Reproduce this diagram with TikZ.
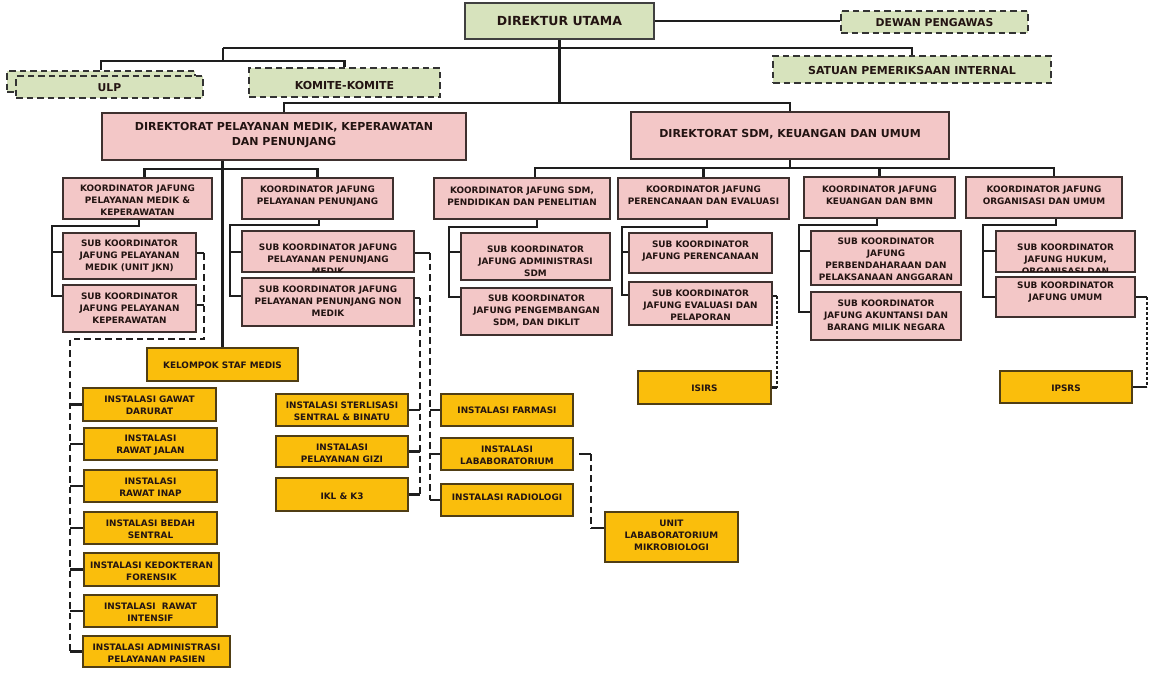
\documentclass[tikz,border=0pt]{standalone}
\usepackage{fontspec}
\newfontfamily\hv{DejaVu Sans}
\definecolor{gfill}{RGB}{215,227,189}
\definecolor{pfill}{RGB}{243,199,199}
\definecolor{ofill}{RGB}{250,190,12}
\definecolor{bord}{RGB}{62,48,46}
\definecolor{obord}{RGB}{80,62,20}
\definecolor{txtc}{RGB}{35,20,18}
\definecolor{lnc}{RGB}{30,30,30}
\tikzset{
 boxbase/.style={rectangle, inner sep=0pt, line width=2.1pt, draw=bord},
 gsolid/.style={boxbase, fill=gfill, draw=black!75},
 gdash/.style={boxbase, fill=gfill, draw=black!80, dash pattern=on 6.5pt off 4pt},
 pbox/.style={boxbase, fill=pfill},
 obox/.style={boxbase, fill=ofill, draw=obord},
 t/.style={inner sep=0pt, align=center, text=txtc, font=\hv\bfseries\fontsize{8.9}{12}\selectfont},
 tbig/.style={t, font=\hv\bfseries\fontsize{11}{14.5}\selectfont},
 tmid/.style={t, font=\hv\bfseries\fontsize{10.8}{14}\selectfont},
 ttop/.style={t, font=\hv\bfseries\fontsize{12.5}{15}\selectfont},
 conn/.style={line width=2.2pt, draw=lnc},
 dconn/.style={line width=2.2pt, draw=lnc, dash pattern=on 6.5pt off 4pt},
 tconn/.style={line width=1.2pt, draw=lnc, dash pattern=on 3pt off 2pt},
}
% box: name, box style, text style, x1, y1, x2, y2, text y, text
\newcommand\bx[9]{%
 \node[#2, minimum width={(#6)-(#4)}, minimum height={(#7)-(#5)}] (#1) at ({((#4)+(#6))/2},{((#5)+(#7))/2}) {};
 \node[#3] (#1-t) at ({((#4)+(#6))/2},#8) {#9};}
\newcommand\bxc[9]{%
 \node[#2, minimum width={(#6)-(#4)}, minimum height={(#7)-(#5)}] (#1) at ({((#4)+(#6))/2},{((#5)+(#7))/2}) {};
 \begin{scope}\clip (#4,#5) rectangle (#6,{(#7)-1});
 \node[#3] (#1-t) at ({((#4)+(#6))/2},#8) {#9};
 \end{scope}}
\begin{document}
\begin{tikzpicture}[x=1pt,y=-1pt]
\useasboundingbox (0,0) rectangle (1152,673);
\fill[white] (0,0) rectangle (1152,673);
% ---- top level
\bx{du}{gsolid}{ttop}{465}{3}{654}{39}{21}{DIREKTUR UTAMA}
\bx{dewan}{gdash}{tmid}{841}{11}{1028}{33}{22.5}{DEWAN PENGAWAS}
\bx{spi}{gdash}{tbig}{773}{56}{1051}{83}{70}{SATUAN PEMERIKSAAN INTERNAL}
\node[gdash, minimum width=188, minimum height=21] (ulpa) at (101,81.5) {};
\bx{ulp}{gdash}{tmid}{16}{76}{203}{98}{88}{ULP}
\bx{komite}{gdash}{tbig}{249}{68}{440}{97}{85}{KOMITE-KOMITE}
\bx{dir1}{pbox}{tbig}{102}{113}{466}{160}{135}{DIREKTORAT PELAYANAN MEDIK, KEPERAWATAN\\DAN PENUNJANG}
\bx{dir2}{pbox}{tbig}{631}{112}{949}{159}{134}{DIREKTORAT SDM, KEUANGAN DAN UMUM}
% ---- koordinator
\bx{kjm}{pbox}{t}{63}{178}{212}{219}{200}{KOORDINATOR JAFUNG\\PELAYANAN MEDIK \&\\KEPERAWATAN}
\bx{kjp}{pbox}{t}{242}{178}{393}{219}{196}{KOORDINATOR JAFUNG\\PELAYANAN PENUNJANG}
\bx{kjs}{pbox}{t}{434}{178}{610}{219}{196.5}{KOORDINATOR JAFUNG SDM,\\PENDIDIKAN DAN PENELITIAN}
\bx{kjr}{pbox}{t}{618}{178}{789}{219}{195}{KOORDINATOR JAFUNG\\PERENCANAAN DAN EVALUASI}
\bx{kjk}{pbox}{t}{804}{177}{955}{218}{195.5}{KOORDINATOR JAFUNG\\KEUANGAN DAN BMN}
\bx{kjo}{pbox}{t}{966}{177}{1122}{218}{195.5}{KOORDINATOR JAFUNG\\ORGANISASI DAN UMUM}
% ---- sub koordinator
\bx{sm1}{pbox}{t}{63}{233}{196}{279}{256.5}{SUB KOORDINATOR\\JAFUNG PELAYANAN\\MEDIK (UNIT JKN)}
\bx{sm2}{pbox}{t}{63}{285}{196}{332}{308}{SUB KOORDINATOR\\JAFUNG PELAYANAN\\KEPERAWATAN}
\bxc{sp1}{pbox}{t}{242}{231}{414}{272}{259.5}{SUB KOORDINATOR JAFUNG\\PELAYANAN PENUNJANG\\MEDIK}
\bx{sp2}{pbox}{t}{242}{278}{414}{326}{301.5}{SUB KOORDINATOR JAFUNG\\PELAYANAN PENUNJANG NON\\MEDIK}
\bx{ss1}{pbox}{t}{461}{233}{610}{280}{261}{SUB KOORDINATOR\\JAFUNG ADMINISTRASI\\SDM}
\bx{ss2}{pbox}{t}{461}{288}{612}{335}{311}{SUB KOORDINATOR\\JAFUNG PENGEMBANGAN\\SDM, DAN DIKLIT}
\bx{sr1}{pbox}{t}{629}{233}{772}{273}{251}{SUB KOORDINATOR\\JAFUNG PERENCANAAN}
\bx{sr2}{pbox}{t}{629}{282}{772}{325}{305}{SUB KOORDINATOR\\JAFUNG EVALUASI DAN\\PELAPORAN}
\bx{sk1}{pbox}{t}{811}{231}{961}{285}{259.5}{SUB KOORDINATOR\\JAFUNG\\PERBENDAHARAAN DAN\\PELAKSANAAN ANGGARAN}
\bx{sk2}{pbox}{t}{811}{292}{961}{340}{315}{SUB KOORDINATOR\\JAFUNG AKUNTANSI DAN\\BARANG MILIK NEGARA}
\bxc{so1}{pbox}{t}{996}{231}{1135}{272}{259}{SUB KOORDINATOR\\JAFUNG HUKUM,\\ORGANISASI DAN}
\bx{so2}{pbox}{t}{996}{277}{1135}{317}{292.5}{SUB KOORDINATOR\\JAFUNG UMUM}
% ---- instalasi
\bx{ksm}{obox}{t}{147}{348}{298}{381}{365}{KELOMPOK STAF MEDIS}
\bx{igd}{obox}{t}{83}{388}{216}{421}{405.5}{INSTALASI GAWAT\\DARURAT}
\bx{irj}{obox}{t}{84}{428}{217}{460}{445}{INSTALASI\\RAWAT JALAN}
\bx{iri}{obox}{t}{84}{470}{217}{502}{487}{INSTALASI\\RAWAT INAP}
\bx{ibs}{obox}{t}{84}{512}{217}{544}{529}{INSTALASI BEDAH\\SENTRAL}
\bx{ikf}{obox}{t}{84}{553}{219}{586}{571.5}{INSTALASI KEDOKTERAN\\FORENSIK}
\bx{iri2}{obox}{t}{84}{595}{217}{627}{612.5}{INSTALASI~ RAWAT\\INTENSIF}
\bx{iap}{obox}{t}{83}{636}{230}{667}{653}{INSTALASI ADMINISTRASI\\PELAYANAN PASIEN}
\bx{iss}{obox}{t}{276}{394}{408}{426}{411}{INSTALASI STERLISASI\\SENTRAL \& BINATU}
\bx{igz}{obox}{t}{276}{436}{408}{467}{453.5}{INSTALASI\\PELAYANAN GIZI}
\bx{ikl}{obox}{t}{276}{478}{408}{511}{496}{IKL \& K3}
\bx{ifa}{obox}{t}{441}{394}{573}{426}{410}{INSTALASI FARMASI}
\bx{ilab}{obox}{t}{441}{438}{573}{470}{455}{INSTALASI\\LABABORATORIUM}
\bx{irad}{obox}{t}{441}{484}{573}{516}{497}{INSTALASI RADIOLOGI}
\bx{iulm}{obox}{t}{605}{512}{738}{562}{535}{UNIT\\LABABORATORIUM\\MIKROBIOLOGI}
\bx{isirs}{obox}{t}{638}{371}{771}{404}{388.5}{ISIRS}
\bx{ipsrs}{obox}{t}{1000}{371}{1132}{403}{388.5}{IPSRS}
% ---- connectors: top
\coordinate (t1) at (223,48);
\coordinate (t3) at (223,61);
\coordinate (b1) at (557,103);
\draw[conn] (du.east) -- (du.east -| dewan.west);
\draw[conn] (du.south) -- (du.south |- b1);
\draw[conn] (t1) -| (spi.north);
\draw[conn] (t1) -- (t3);
\draw[conn] (ulpa.north) |- (t3) -| (komite.north);
\draw[conn] (dir1.north) |- (b1) -| (dir2.north);
% directorate 1
\coordinate (h2) at (223,169);
\draw[conn] (ksm.north) -- (ksm.north |- dir1.south);
\draw[conn] ([xshift=7pt]kjm.north) |- (h2) -| (kjp.north);
% directorate 2
\coordinate (b2L) at (535,168);
\coordinate (b2R) at (1054,168);
\draw[conn] (dir2.south) -- (dir2.south |- b2L);
\draw[conn] (kjs.north -| b2L) |- (b2R) -- (kjo.north -| b2R);
\draw[conn] (kjr.north) -- (kjr.north |- b2L);
\draw[conn] (kjk.north) -- (kjk.north |- b2L);
% groups
\coordinate (gm0) at (52,226); \coordinate (gm1) at (52,252); \coordinate (gm2) at (52,296);
\draw[conn] ([xshift=1.5pt]kjm.south) |- (gm0) -- (gm2) -- (gm2 -| sm2.west);
\draw[conn] (gm1) -- (gm1 -| sm1.west);
\coordinate (gp0) at (230,225); \coordinate (gp1) at (230,252); \coordinate (gp2) at (230,296);
\draw[conn] ([xshift=1.5pt]kjp.south) |- (gp0) -- (gp2) -- (gp2 -| sp2.west);
\draw[conn] (gp1) -- (gp1 -| sp1.west);
\coordinate (gs0) at (449,227); \coordinate (gs1) at (449,252); \coordinate (gs2) at (449,297);
\draw[conn] ([xshift=15pt]kjs.south) |- (gs0) -- (gs2) -- (gs2 -| ss2.west);
\draw[conn] (gs1) -- (gs1 -| ss1.west);
\coordinate (gr0) at (622,227); \coordinate (gr1) at (622,252); \coordinate (gr2) at (622,295);
\draw[conn] ([xshift=3.5pt]kjr.south) |- (gr0) -- (gr2) -- (gr2 -| sr2.west);
\draw[conn] (gr1) -- (gr1 -| sr1.west);
\coordinate (gk0) at (799,225); \coordinate (gk1) at (799,251); \coordinate (gk2) at (799,312);
\draw[conn] ([xshift=-2.5pt]kjk.south) |- (gk0) -- (gk2) -- (gk2 -| sk2.west);
\draw[conn] (gk1) -- (gk1 -| sk1.west);
\coordinate (go0) at (983,225); \coordinate (go1) at (983,251); \coordinate (go2) at (983,297);
\draw[conn] ([xshift=12pt]kjo.south) |- (go0) -- (go2) -- (go2 -| so2.west);
\draw[conn] (go1) -- (go1 -| so1.west);
% dashed: medical
\coordinate (dm0) at (204,253); \coordinate (dm1) at (204,305);
\coordinate (dm2) at (204,339); \coordinate (dm3) at (70,339);
\draw[conn] (dm0 -| sm1.east) -- (dm0);
\draw[conn] (dm1 -| sm2.east) -- (dm1);
\draw[dconn] (dm0) -- (dm2) -- (dm3) -- (dm3 |- iap.west);
\foreach \b in {igd,irj,iri,ibs,ikf,iri2,iap} \draw[conn] (\b.west -| dm3) -- (\b.west);
% dashed: penunjang
\coordinate (dp0) at (430,253); \coordinate (dn0) at (420,298);
\draw[conn] (dp0 -| sp1.east) -- (dp0);
\draw[dconn] (dp0) -- (dp0 |- irad.west);
\foreach \b in {ifa,ilab,irad} \draw[conn] (\b.west -| dp0) -- (\b.west);
\draw[conn] (dn0 -| sp2.east) -- (dn0);
\draw[dconn] (dn0) -- (dn0 |- ikl.east);
\foreach \b in {iss,igz,ikl} \draw[conn] (\b.east) -- (\b.east -| dn0);
% dashed: lab
\coordinate (dl0) at (591,454);
\coordinate (ul) at ([yshift=9pt]iulm.west);
\draw[conn] ([xshift=5pt]ilab.east) -- (dl0);
\draw[dconn] (dl0) -- (dl0 |- ul);
\draw[conn] (dl0 |- ul) -- (ul);
% dashed: isirs / ipsrs
\coordinate (di0) at (777,296);
\draw[conn] (di0 -| sr2.east) -- (di0);
\draw[tconn] (di0) -- (di0 |- isirs.east);
\draw[conn] (di0 |- isirs.east) -- (isirs.east);
\coordinate (do0) at (1147,297);
\draw[conn] (do0 -| so2.east) -- (do0);
\draw[tconn] (do0) -- (do0 |- ipsrs.east);
\draw[conn] (do0 |- ipsrs.east) -- (ipsrs.east);
\end{tikzpicture}
\end{document}
